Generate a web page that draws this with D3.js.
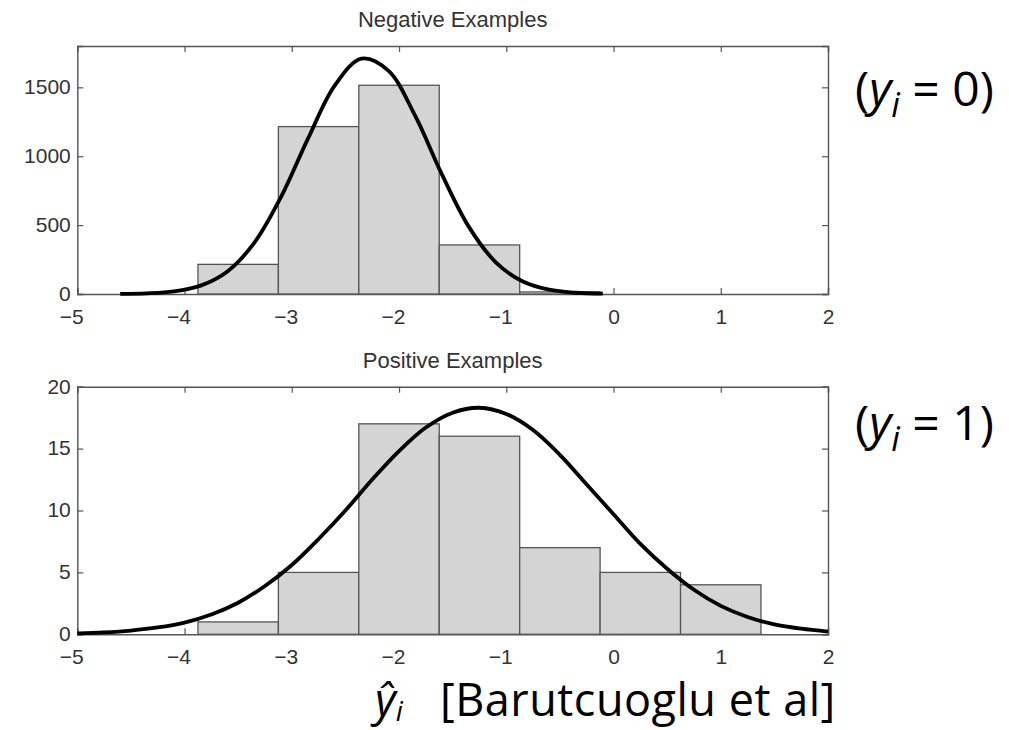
<!DOCTYPE html>
<html>
<head>
<meta charset="utf-8">
<script src="https://cdn.jsdelivr.net/npm/d3@7"></script>
<style>
  html, body { margin: 0; padding: 0; background: #fff; }
  svg { display: block; }
</style>
</head>
<body>
<svg id="chart" width="1009" height="730"></svg>
<script>
// ---------- data ----------
const xTicks = [-5, -4, -3, -2, -1, 0, 1, 2];
const negYTicks = [0, 500, 1000, 1500];
const posYTicks = [0, 5, 10, 15, 20];

const negBinEdges = [-3.875, -3.125, -2.375, -1.625, -0.875, -0.125];
const negCounts = [215, 1215, 1515, 356, 15];

const posBinEdges = [-3.875, -3.125, -2.375, -1.625, -0.875, -0.125, 0.625, 1.375];
const posCounts = [1, 5, 17, 16, 7, 5, 4];

// fitted density curves
const negCurveX = [-4.6, -4.35, -4.1, -3.85, -3.6, -3.35, -3.1, -2.85, -2.6, -2.35, -2.1, -1.85, -1.6, -1.35, -1.1, -0.85, -0.6, -0.35, -0.1];
const negCurveY = [1, 5, 19, 61, 164, 371, 705, 1126, 1513, 1708, 1621, 1294, 868, 489, 232, 92, 31, 9, 2];

const posCurveX = [-5, -4.75, -4.5, -4.25, -4, -3.75, -3.5, -3.25, -3, -2.75, -2.5, -2.25, -2, -1.75, -1.5, -1.25, -1, -0.75, -0.5, -0.25, 0, 0.25, 0.5, 0.75, 1, 1.25, 1.5, 1.75, 2];
const posCurveY = [0.07, 0.15, 0.3, 0.55, 0.95, 1.6, 2.55, 3.9, 5.6, 7.7, 10.0, 12.5, 14.8, 16.7, 17.9, 18.3, 17.8, 16.5, 14.5, 12.1, 9.7, 7.3, 5.3, 3.6, 2.3, 1.4, 0.8, 0.45, 0.22];

const titles = ["Negative Examples", "Positive Examples"];

// ---------- layout ----------
const svg = d3.select("#chart");
const left = 77.3, right = 828;
const panels = [
  { top: 46, bottom: 294, yMax: 1800, yTicks: negYTicks, edges: negBinEdges, counts: negCounts, cx: negCurveX, cy: negCurveY, title: titles[0], titleY: 27 },
  { top: 386.7, bottom: 634.3, yMax: 20, yTicks: posYTicks, edges: posBinEdges, counts: posCounts, cx: posCurveX, cy: posCurveY, title: titles[1], titleY: 368 }
];

const tickFont = "'Liberation Sans', Arial, Helvetica, sans-serif";

panels.forEach(p => {
  const x = d3.scaleLinear().domain([-5, 2]).range([left, right]);
  const y = d3.scaleLinear().domain([0, p.yMax]).range([p.bottom, p.top]);
  const g = svg.append("g");

  // axes (bottom layer)
  const fmt = d3.format("d");
  const ax = g.append("g").attr("transform", `translate(0,${p.bottom})`)
    .call(d3.axisBottom(x).tickValues(xTicks).tickSize(-6).tickPadding(15).tickFormat(fmt));
  ax.selectAll("text").attr("dx", d => d < 0 ? "-0.29em" : 0);
  g.append("g").attr("transform", `translate(0,${p.top})`)
    .call(d3.axisTop(x).tickValues(xTicks).tickSize(-6).tickFormat(""));
  const ay = g.append("g").attr("transform", `translate(${left},0)`)
    .call(d3.axisLeft(y).tickValues(p.yTicks).tickSize(-6).tickPadding(6.5).tickFormat(fmt));
  ay.selectAll("text").attr("dy", "0.3em");
  g.append("g").attr("transform", `translate(${right},0)`)
    .call(d3.axisRight(y).tickValues(p.yTicks).tickSize(-6).tickFormat(""));

  g.selectAll(".domain").attr("stroke", "#555").attr("stroke-width", 1.4);
  g.selectAll(".tick line").attr("stroke", "#555").attr("stroke-width", 1.2);
  g.selectAll(".tick text").attr("font-family", tickFont).attr("font-size", 21).attr("fill", "#333");

  // bars
  const bins = p.counts.map((c, i) => ({ x0: p.edges[i], x1: p.edges[i + 1], c }));
  g.append("g").selectAll("rect").data(bins).join("rect")
    .attr("x", d => x(d.x0))
    .attr("width", d => x(d.x1) - x(d.x0))
    .attr("y", d => y(d.c))
    .attr("height", d => y(0) - y(d.c))
    .attr("fill", "#d4d4d4")
    .attr("stroke", "#555")
    .attr("stroke-width", 1.3);

  // curve
  const pts = p.cx.map((v, i) => [v, p.cy[i]]);
  g.append("path").datum(pts)
    .attr("d", d3.line().x(d => x(d[0])).y(d => y(d[1])).curve(d3.curveCatmullRom.alpha(0.5)))
    .attr("fill", "none")
    .attr("stroke", "#000")
    .attr("stroke-width", 3.8)
    .attr("stroke-linejoin", "round");

  // title
  svg.append("text")
    .attr("x", (left + right) / 2).attr("y", p.titleY)
    .attr("text-anchor", "middle")
    .attr("font-family", tickFont).attr("font-size", 22).attr("fill", "#333")
    .text(p.title);
});

// ---------- annotations ----------
const annFont = "'Open Sans', 'DejaVu Sans', sans-serif";
function yLabel(yBase, val) {
  const t = svg.append("text").attr("x", 855).attr("y", yBase)
    .attr("font-family", annFont).attr("font-size", 48).attr("fill", "#000");
  t.append("tspan").text("(");
  t.append("tspan").attr("font-style", "italic").text("y");
  t.append("tspan").attr("font-style", "italic").attr("font-size", 34).attr("dy", 11).text("i");
  t.append("tspan").attr("dy", -11).text(" = " + val + ")");
}
yLabel(106, "0");
yLabel(440, "1");

const b = svg.append("text").attr("x", 375).attr("y", 716)
  .attr("font-family", annFont).attr("font-size", 45).attr("fill", "#000");
b.append("tspan").attr("font-style", "italic").text("\u0177");
b.append("tspan").attr("font-style", "italic").attr("font-size", 28).attr("dy", 5).text("i");
svg.append("text").attr("x", 440).attr("y", 716)
  .attr("font-family", annFont).attr("font-size", 45).attr("letter-spacing", 0.5).attr("fill", "#000")
  .text("[Barutcuoglu et al]");
</script>
</body>
</html>
